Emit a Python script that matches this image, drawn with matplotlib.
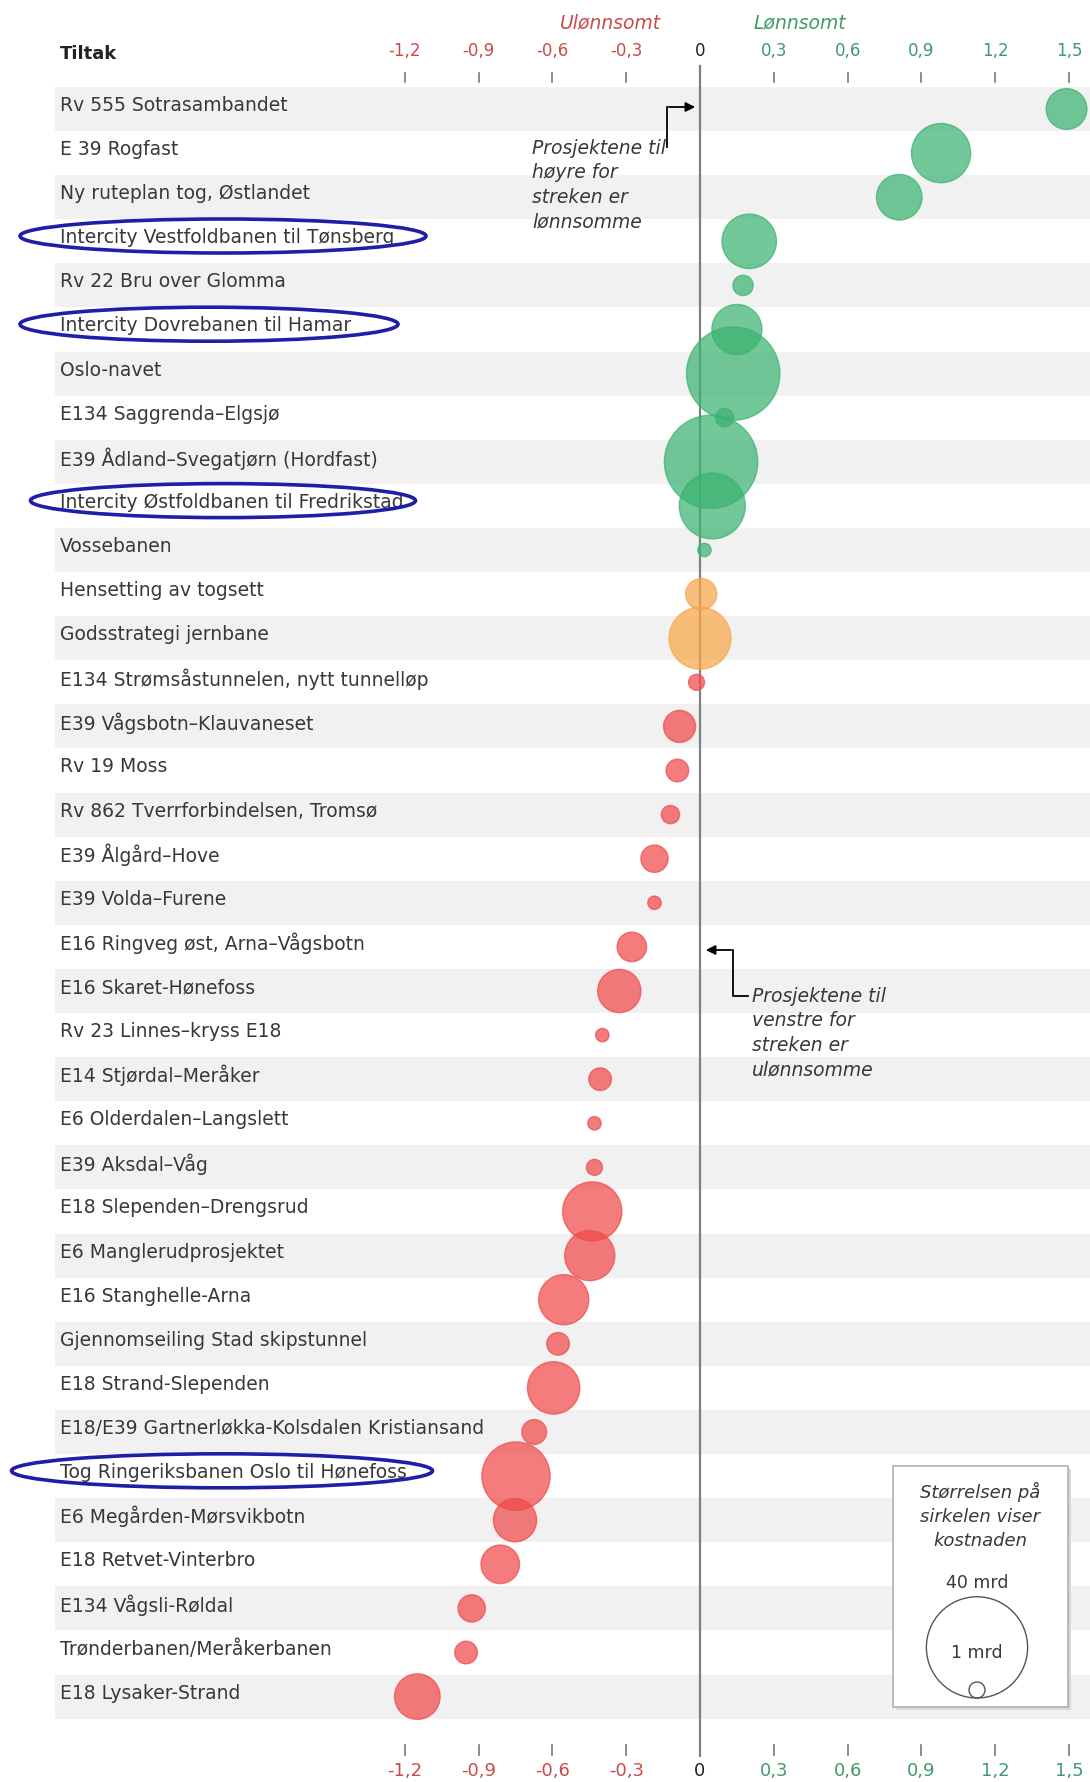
import numpy as np
import matplotlib
matplotlib.use("Agg")
import matplotlib.pyplot as plt
from matplotlib.patches import Ellipse, Rectangle

# Data: net benefit per invested krone (x) and cost in billion NOK (bubble size)
projects = [
    "Rv 555 Sotrasambandet",
    "E 39 Rogfast",
    "Ny ruteplan tog, Østlandet",
    "Intercity Vestfoldbanen til Tønsberg",
    "Rv 22 Bru over Glomma",
    "Intercity Dovrebanen til Hamar",
    "Oslo-navet",
    "E134 Saggrenda–Elgsjø",
    "E39 Ådland–Svegatjørn (Hordfast)",
    "Intercity Østfoldbanen til Fredrikstad",
    "Vossebanen",
    "Hensetting av togsett",
    "Godsstrategi jernbane",
    "E134 Strømsåstunnelen, nytt tunnelløp",
    "E39 Vågsbotn–Klauvaneset",
    "Rv 19 Moss",
    "Rv 862 Tverrforbindelsen, Tromsø",
    "E39 Ålgård–Hove",
    "E39 Volda–Furene",
    "E16 Ringveg øst, Arna–Vågsbotn",
    "E16 Skaret-Hønefoss",
    "Rv 23 Linnes–kryss E18",
    "E14 Stjørdal–Meråker",
    "E6 Olderdalen–Langslett",
    "E39 Aksdal–Våg",
    "E18 Slependen–Drengsrud",
    "E6 Manglerudprosjektet",
    "E16 Stanghelle-Arna",
    "Gjennomseiling Stad skipstunnel",
    "E18 Strand-Slependen",
    "E18/E39 Gartnerløkka-Kolsdalen Kristiansand",
    "Tog Ringeriksbanen Oslo til Hønefoss",
    "E6 Megården-Mørsvikbotn",
    "E18 Retvet-Vinterbro",
    "E134 Vågsli-Røldal",
    "Trønderbanen/Meråkerbanen",
    "E18 Lysaker-Strand",
]
netto_nytte = [1.49, 0.98, 0.81, 0.20, 0.175, 0.15, 0.135, 0.10, 0.045, 0.05,
               0.018, 0.005, 0.0, -0.014, -0.083, -0.092, -0.12, -0.185, -0.185,
               -0.277, -0.328, -0.397, -0.406, -0.429, -0.429, -0.438, -0.448,
               -0.554, -0.577, -0.595, -0.674, -0.748, -0.752, -0.812, -0.928,
               -0.951, -1.149]
kostnad_mrd = [6.5, 13.7, 8.1, 11.6, 1.6, 9.8, 34.0, 1.3, 34.0, 17.0,
               0.7, 3.8, 15.0, 1.0, 4.0, 2.0, 1.3, 2.9, 0.7,
               3.4, 7.3, 0.7, 2.0, 0.7, 1.0, 13.7, 9.8,
               9.8, 2.0, 10.7, 2.4, 18.2, 7.3, 5.8, 2.9,
               2.0, 8.1]
highlighted = [
    "Intercity Vestfoldbanen til Tønsberg",
    "Intercity Dovrebanen til Hamar",
    "Intercity Østfoldbanen til Fredrikstad",
    "Tog Ringeriksbanen Oslo til Hønefoss",
]
tick_values = [-1.2, -0.9, -0.6, -0.3, 0, 0.3, 0.6, 0.9, 1.2, 1.5]
legend_sizes = [40, 1]

GREEN = "#3cb371"
RED = "#f04a4a"
ORANGE = "#f7a648"
TICK_RED = "#c94a4a"
TICK_GREEN = "#3f9a6c"
TEXT = "#383838"

W, H = 1090, 1782
PX_PER_UNIT = 246.0
X0_PX = 700.0
ROW0_PX = 109.0
ROW_PX = 44.1
S_PER_MRD = 132.8  # scatter area (pt^2) per billion


def px_x(px):
    return (px - X0_PX) / PX_PER_UNIT


def px_y(py):
    return (py - ROW0_PX) / ROW_PX


def point_color(v):
    if v > 0.01:
        return GREEN
    if v >= -0.01:
        return ORANGE
    return RED


fig = plt.figure(figsize=(W / 100, H / 100), dpi=100)
ax = fig.add_axes([0, 0, 1, 1])
ax.set_xlim(px_x(0), px_x(W))
ax.set_ylim(px_y(H), px_y(0))
ax.axis("off")
plt.rcParams["font.family"] = ["DejaVu Sans"]

n = len(projects)
rows = np.arange(n)

# alternating row stripes
for i in rows:
    if i % 2 == 0:
        ax.axhspan(i - 0.5, i + 0.5, xmin=55 / W, xmax=1, color="#f1f1f1", zorder=0, lw=0)

# labels
for i, name in enumerate(projects):
    ax.text(px_x(60), i - 0.08, name, fontsize=13.5, color=TEXT, va="center", ha="left", zorder=3)

# zero line
ax.plot([0, 0], [px_y(66), px_y(1756)], color="#808080", lw=1.6, zorder=2)

# bubbles
colors = [point_color(v) for v in netto_nytte]
ax.scatter(netto_nytte, rows, s=np.array(kostnad_mrd) * S_PER_MRD, c=colors,
           alpha=0.72, edgecolors=colors, linewidths=1.0, zorder=4)

# highlight ellipses
ell_geom = {
    "Intercity Vestfoldbanen til Tønsberg": (223, 406),
    "Intercity Dovrebanen til Hamar": (209, 378),
    "Intercity Østfoldbanen til Fredrikstad": (223, 385),
    "Tog Ringeriksbanen Oslo til Hønefoss": (222, 421),
}
for name in highlighted:
    i = projects.index(name)
    cx, wpx = ell_geom[name]
    ax.add_patch(Ellipse((px_x(cx), i - 0.12), wpx / PX_PER_UNIT, 34 / ROW_PX,
                         fill=False, ec="#1e1ea8", lw=2.6, zorder=5))

# tick marks and labels, top and bottom
for t in tick_values:
    if t < 0:
        col = TICK_RED
    elif t > 0:
        col = TICK_GREEN
    else:
        col = "#222222"
    lab = f"{t:g}".replace(".", ",")
    ax.text(t, px_y(51), lab, fontsize=12, color=col, ha="center", va="center")
    ax.text(t, px_y(1771), lab, fontsize=13, color=col, ha="center", va="center")
    if t != 0:
        ax.plot([t, t], [px_y(73), px_y(82)], color="#777777", lw=1.2)
        ax.plot([t, t], [px_y(1745), px_y(1755)], color="#777777", lw=1.2)

ax.text(px_x(60), px_y(54), "Tiltak", fontsize=13, fontweight="bold", color="#222222",
        ha="left", va="center")
ax.text(px_x(610), px_y(23), "Ulønnsomt", fontsize=13.5, style="italic", color=TICK_RED,
        ha="center", va="center")
ax.text(px_x(800), px_y(23), "Lønnsomt", fontsize=13.5, style="italic", color=TICK_GREEN,
        ha="center", va="center")

# annotation: right side is profitable
ax.text(px_x(532), px_y(139), "Prosjektene til\nhøyre for\nstreken er\nlønnsomme",
        fontsize=13.5, style="italic", color=TEXT, ha="left", va="top", linespacing=1.36,
        zorder=3)
ax.plot([px_x(667), px_x(667)], [px_y(147), px_y(107)], color="black", lw=1.3, zorder=3)
ax.annotate("", xy=(px_x(698), px_y(107)), xytext=(px_x(666), px_y(107)),
            arrowprops=dict(arrowstyle="-|>", color="black", lw=1.3, mutation_scale=14),
            zorder=3)

# annotation: left side is unprofitable
ax.text(px_x(752), px_y(987), "Prosjektene til\nvenstre for\nstreken er\nulønnsomme",
        fontsize=13.5, style="italic", color=TEXT, ha="left", va="top", linespacing=1.36,
        zorder=3)
ax.plot([px_x(748), px_x(733), px_x(733)], [px_y(996), px_y(996), px_y(950)],
        color="black", lw=1.3, zorder=3)
ax.annotate("", xy=(px_x(703), px_y(950)), xytext=(px_x(734), px_y(950)),
            arrowprops=dict(arrowstyle="-|>", color="black", lw=1.3, mutation_scale=14),
            zorder=3)

# size legend box
bx0, bx1, by0, by1 = 893, 1068, 1466, 1707
ax.add_patch(Rectangle((px_x(bx0 + 3), px_y(by1 + 3)), (bx1 - bx0) / PX_PER_UNIT,
                       (by0 - by1) / ROW_PX, fc="#d8d8d8", ec="none", zorder=6))
ax.add_patch(Rectangle((px_x(bx0), px_y(by1)), (bx1 - bx0) / PX_PER_UNIT,
                       (by0 - by1) / ROW_PX, fc="white", ec="#b0b0b0", lw=1.2, zorder=7))
ax.text(px_x(980), px_y(1482), "Størrelsen på\nsirkelen viser\nkostnaden", fontsize=13,
        style="italic", color=TEXT, ha="center", va="top", linespacing=1.42, zorder=8)
ax.text(px_x(977), px_y(1583), f"{legend_sizes[0]} mrd", fontsize=12.5, color=TEXT,
        ha="center", va="center", zorder=8)
ax.text(px_x(977), px_y(1653), f"{legend_sizes[1]} mrd", fontsize=12.5, color=TEXT,
        ha="center", va="center", zorder=8)
bottom_px = 1698
for size in legend_sizes:
    r_px = np.sqrt(size * S_PER_MRD) / 2 / 0.72
    ax.scatter([px_x(977)], [px_y(bottom_px - r_px)], s=size * S_PER_MRD, facecolors="none",
               edgecolors="#555555", linewidths=1.0, zorder=8)

fig.savefig("out.png", dpi=100, facecolor="white")
